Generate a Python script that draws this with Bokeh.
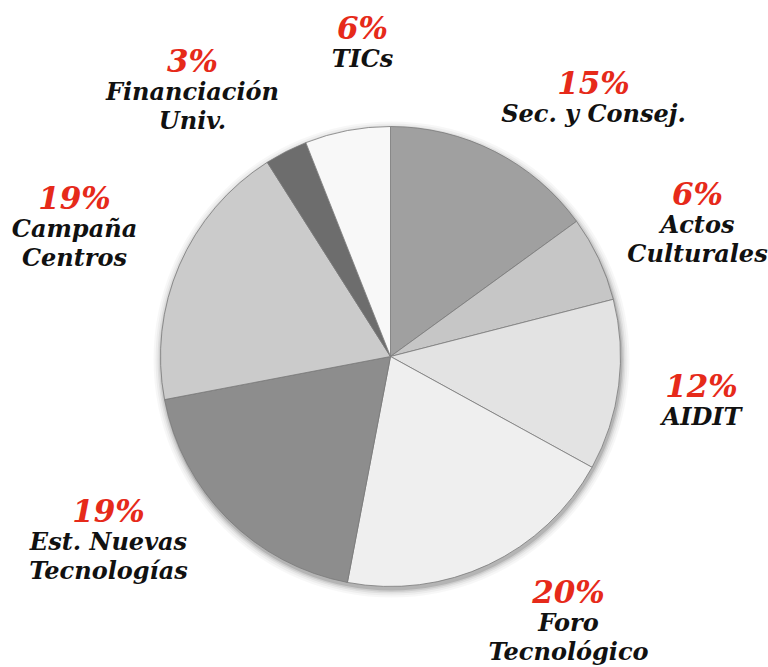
import math
from bokeh.plotting import figure
from bokeh.models import ColumnDataSource, Range1d
from bokeh.core.properties import value
from bokeh.embed import file_html
from bokeh.resources import INLINE

# ---- data ----
categories = ["Sec. y Consej.", "Actos Culturales", "AIDIT", "Foro Tecnológico",
              "Est. Nuevas Tecnologías", "Campaña Centros", "Financiación Univ.", "TICs"]
percents = [15, 6, 12, 20, 19, 19, 3, 6]
label_lines = [["Sec. y Consej."], ["Actos", "Culturales"], ["AIDIT"], ["Foro", "Tecnológico"],
               ["Est. Nuevas", "Tecnologías"], ["Campaña", "Centros"], ["Financiación", "Univ."], ["TICs"]]

# ---- style / layout ----
colors = ["#a0a0a0", "#c6c6c6", "#e3e3e3", "#efefef", "#8d8d8d", "#cbcbcb", "#6d6d6d", "#f8f8f8"]
# label anchor (screen px) for each category: centre of the percent line
label_pos = [(593, 82), (697, 193), (701, 385), (568, 591), (108, 510), (74, 197), (192, 60), (362, 27)]

W, H = 768, 667
def sy(y):  # screen y -> data y
    return H - y

cx, cy, R = 390, sy(356), 230

p = figure(width=W, height=H, output_backend="svg", toolbar_location=None,
           x_range=Range1d(0, W), y_range=Range1d(0, H), min_border=0)
p.axis.visible = False
p.grid.visible = False
p.outline_line_color = None
p.background_fill_color = "white"
p.border_fill_color = "white"

# soft shadow
for dr, a in [(8, 0.03), (6, 0.04), (4, 0.06), (2.5, 0.08), (1, 0.12)]:
    p.circle(x=[cx + 1], y=[cy - 3], radius=R + dr, fill_color="black", fill_alpha=a, line_color=None)

total = sum(percents)
starts, ends = [], []
acc = 0
for v in percents:
    starts.append(math.pi / 2 - 2 * math.pi * acc / total)
    acc += v
    ends.append(math.pi / 2 - 2 * math.pi * acc / total)

src = ColumnDataSource(dict(start=starts, end=ends, color=colors, cat=categories, pct=percents))
p.wedge(x=cx, y=cy, radius=R, start_angle="start", end_angle="end", direction="clock",
        fill_color="color", line_color="#7a7a7a", line_width=1, line_alpha=0.8, source=src)

# labels
pct_x, pct_y, pct_t = [], [], []
nm_x, nm_y, nm_t = [], [], []
for v, lines, (lx, ly) in zip(percents, label_lines, label_pos):
    pct_x.append(lx); pct_y.append(sy(ly)); pct_t.append(f"{v}%")
    for j, ln in enumerate(lines):
        nm_x.append(lx); nm_y.append(sy(ly + 31 + 29 * j)); nm_t.append(ln)

p.text(x=pct_x, y=pct_y, text=pct_t, text_color="#e62a1a", text_font=value("DejaVu Serif"),
       text_font_style="bold italic", text_font_size="31px", text_align="center",
       text_baseline="middle")
p.text(x=nm_x, y=nm_y, text=nm_t, text_color="#111111", text_font=value("DejaVu Serif"),
       text_font_style="bold italic", text_font_size="24px", text_align="center",
       text_baseline="middle")

open("out.html", "w").write(file_html(p, INLINE))
